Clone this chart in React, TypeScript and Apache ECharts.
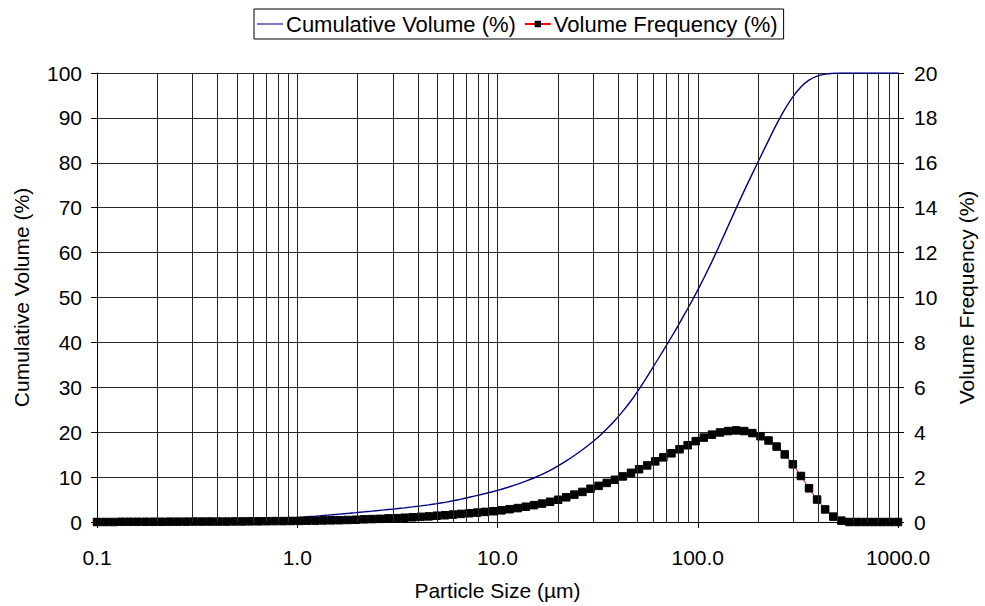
import React, { useEffect, useRef } from "react";
import * as echarts from "echarts";

const sizes = [
  0.1, 0.1098, 0.1205, 0.1322, 0.1451, 0.1592, 0.1748, 0.1918, 0.2105, 0.231,
  0.2535, 0.2783, 0.3054, 0.3352, 0.3678, 0.4037, 0.4431, 0.4863, 0.5337, 0.5857,
  0.6428, 0.7055, 0.7743, 0.8498, 0.9326, 1.024, 1.123, 1.233, 1.353, 1.485,
  1.63, 1.789, 1.963, 2.154, 2.364, 2.595, 2.848, 3.126, 3.43, 3.765,
  4.132, 4.535, 4.977, 5.462, 5.995, 6.579, 7.221, 7.925, 8.697, 9.545,
  10.48, 11.5, 12.62, 13.85, 15.2, 16.68, 18.31, 20.09, 22.05, 24.2,
  26.56, 29.15, 31.99, 35.11, 38.54, 42.29, 46.42, 50.94, 55.91, 61.36,
  67.34, 73.91, 81.11, 89.02, 97.7, 107.2, 117.7, 129.2, 141.7, 155.6,
  170.7, 187.4, 205.7, 225.7, 247.7, 271.9, 298.4, 327.5, 359.4, 394.4,
  432.9, 475.1, 521.4, 572.2, 628.0, 689.3, 756.5, 830.2, 911.2, 1000,
];

const volumeFrequency = [
  0, 0, 0, 0.01, 0.01, 0.01, 0.01, 0.01, 0.01, 0.015,
  0.015, 0.015, 0.02, 0.02, 0.02, 0.02, 0.02, 0.025, 0.025, 0.03,
  0.03, 0.035, 0.04, 0.04, 0.045, 0.05, 0.06, 0.06, 0.07, 0.075,
  0.08, 0.09, 0.1, 0.12, 0.13, 0.14, 0.16, 0.17, 0.19, 0.21,
  0.23, 0.25, 0.28, 0.3, 0.33, 0.36, 0.39, 0.42, 0.45, 0.48,
  0.52, 0.57, 0.62, 0.68, 0.75, 0.82, 0.9, 0.99, 1.1, 1.22,
  1.34, 1.48, 1.61, 1.74, 1.88, 2.03, 2.19, 2.35, 2.52, 2.7,
  2.88, 3.06, 3.24, 3.42, 3.6, 3.76, 3.89, 3.99, 4.05, 4.08,
  4.05, 3.96, 3.82, 3.63, 3.36, 3.01, 2.57, 2.05, 1.5, 1.0,
  0.56, 0.24, 0.06, 0, 0, 0, 0, 0, 0, 0,
];

const cumulativeVolume = [
  0, 0.02, 0.03, 0.05, 0.06, 0.08, 0.09, 0.11, 0.13, 0.14,
  0.16, 0.18, 0.2, 0.22, 0.25, 0.28, 0.32, 0.37, 0.42, 0.48,
  0.55, 0.62, 0.7, 0.8, 0.92, 1.03, 1.16, 1.3, 1.45, 1.6,
  1.76, 1.92, 2.08, 2.25, 2.42, 2.6, 2.78, 2.96, 3.15, 3.36,
  3.58, 3.82, 4.08, 4.38, 4.72, 5.1, 5.5, 5.92, 6.35, 6.8,
  7.3, 7.85, 8.45, 9.1, 9.8, 10.6, 11.5, 12.5, 13.6, 14.8,
  16.1, 17.5, 19.0, 20.7, 22.6, 24.7, 27.0, 29.6, 32.4, 35.3,
  38.2, 41.2, 44.3, 47.5, 50.8, 54.3, 58.0, 61.9, 65.9, 69.9,
  73.8, 77.6, 81.3, 85.0, 88.6, 91.9, 94.7, 96.9, 98.4, 99.3,
  99.75, 99.95, 100, 100, 100, 100, 100, 100, 100, 100,
];

const minorGridSizes = [
  0.2, 0.3, 0.4, 0.5, 0.6, 0.7, 0.8, 0.9,
  2, 3, 4, 5, 6, 7, 8, 9,
  20, 30, 40, 50, 60, 70, 80, 90,
  200, 300, 400, 500, 600, 700, 800, 900,
];

const FONT = "'Liberation Sans', Arial, sans-serif";
const GRID_COLOR = "#262626";

export default function App() {
  const ref = useRef<HTMLDivElement>(null);

  useEffect(() => {
    document.body.style.margin = "0";
    document.body.style.overflow = "hidden";
    document.documentElement.style.overflow = "hidden";
    if (!ref.current) return;
    const chart = echarts.init(ref.current, undefined, { renderer: "svg" });

    const cumData = sizes.map((s, i) => [s, cumulativeVolume[i]]);
    const freqData = sizes.map((s, i) => [s, volumeFrequency[i]]);

    chart.setOption({
      animation: false,
      backgroundColor: "#ffffff",
      textStyle: { fontFamily: FONT, color: "#000" },
      grid: { left: 97, top: 73, width: 812, height: 451, containLabel: false },
      legend: {
        left: 254,
        top: 9,
        orient: "horizontal",
        borderColor: "#000",
        borderWidth: 1,
        padding: [4, 6, 4, 3],
        itemGap: 8,
        itemWidth: 26,
        itemHeight: 8,
        textStyle: { fontFamily: FONT, fontSize: 22, color: "#000", padding: [0, 0, 0, -2] },
        data: [
          { name: "Cumulative Volume (%)", icon: "path://M0 0 H40 V1.6 H0 Z" },
          { name: "Volume Frequency (%)" },
        ],
      },
      xAxis: {
        type: "log",
        logBase: 10,
        min: 0.1,
        max: 1000,
        name: "Particle Size (µm)",
        nameLocation: "middle",
        nameGap: 58,
        nameTextStyle: { fontFamily: FONT, fontSize: 21, color: "#000" },
        axisLine: { show: true, onZero: false, lineStyle: { color: "#000", width: 1 } },
        axisTick: { show: true, length: 6, lineStyle: { color: "#000" } },
        axisLabel: {
          fontFamily: FONT,
          fontSize: 21,
          color: "#000",
          margin: 25,
          formatter: (v: number) => Number(v).toFixed(1),
        },
        splitLine: { show: true, lineStyle: { color: GRID_COLOR, width: 1 } },
      },
      yAxis: [
        {
          type: "value",
          min: 0,
          max: 100,
          interval: 10,
          position: "left",
          name: "Cumulative Volume (%)",
          nameLocation: "middle",
          nameGap: 65,
          nameTextStyle: { fontFamily: FONT, fontSize: 21, color: "#000" },
          axisLine: { show: true, lineStyle: { color: "#000", width: 1 } },
          axisTick: { show: true, length: 6, lineStyle: { color: "#000" } },
          axisLabel: { fontFamily: FONT, fontSize: 21, color: "#000", margin: 15 },
          splitLine: { show: true, lineStyle: { color: GRID_COLOR, width: 1 } },
        },
        {
          type: "value",
          min: 0,
          max: 20,
          interval: 2,
          position: "right",
          name: "Volume Frequency (%)",
          nameLocation: "middle",
          nameGap: 58,
          nameRotate: 90,
          nameTextStyle: { fontFamily: FONT, fontSize: 21, color: "#000" },
          axisLine: { show: true, lineStyle: { color: "#000", width: 1 } },
          axisTick: { show: true, length: 6, lineStyle: { color: "#000" } },
          axisLabel: { fontFamily: FONT, fontSize: 21, color: "#000", margin: 16 },
          splitLine: { show: false },
        },
      ],
      series: [
        {
          name: "gridlines",
          type: "line",
          data: [],
          z: 1,
          silent: true,
          markLine: {
            silent: true,
            symbol: ["none", "none"],
            label: { show: false },
            lineStyle: { color: GRID_COLOR, width: 1, type: "solid" },
            data: minorGridSizes.map((v) => ({ xAxis: v })),
          },
        },
        {
          name: "Cumulative Volume (%)",
          type: "line",
          yAxisIndex: 0,
          data: cumData,
          smooth: 0.2,
          showSymbol: false,
          symbol: "none",
          z: 3,
          color: "#000080",
          itemStyle: { color: "#000080" },
          lineStyle: { color: "#000080", width: 1.4 },
        },
        {
          name: "Volume Frequency (%)",
          type: "line",
          yAxisIndex: 1,
          data: freqData,
          symbol: "rect",
          symbolSize: 7.5,
          showSymbol: true,
          z: 4,
          itemStyle: { color: "#000", borderColor: "#000" },
          lineStyle: { color: "#ff0000", width: 1 },
        },
      ],
    });

    return () => chart.dispose();
  }, []);

  return (
    <div
      ref={ref}
      style={{ position: "absolute", left: 0, top: 0, width: 985, height: 606 }}
    />
  );
}
